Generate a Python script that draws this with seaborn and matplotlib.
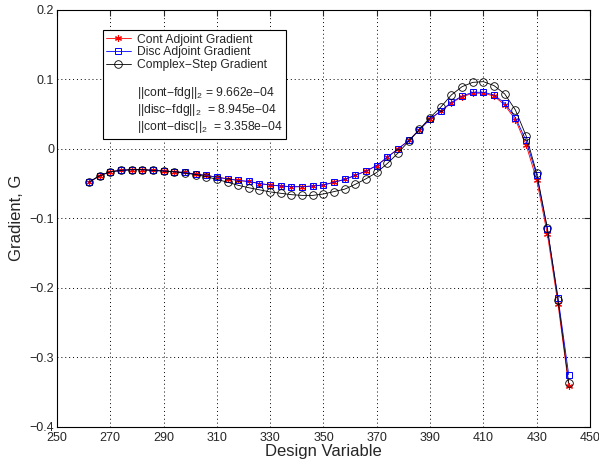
import numpy as np
import pandas as pd
import seaborn as sns
import matplotlib
matplotlib.use('Agg')
from matplotlib import pyplot as plt
from matplotlib.lines import Line2D
from matplotlib.ticker import FuncFormatter

# design variables, every 4th from 262 to 442
design_var = list(range(262, 443, 4))

cont_adj = [-0.048, -0.0388, -0.033, -0.031, -0.030, -0.030, -0.031, -0.0317, -0.033, -0.034,
            -0.0365, -0.038, -0.041, -0.043, -0.0455, -0.047, -0.050, -0.052, -0.0535, -0.0545,
            -0.0545, -0.0535, -0.052, -0.048, -0.044, -0.038, -0.032, -0.024, -0.012, 0.000,
            0.012, 0.0275, 0.043, 0.054, 0.066, 0.075, 0.080, 0.080, 0.076, 0.063,
            0.042, 0.006, -0.045, -0.123, -0.224, -0.341]
disc_adj = [-0.048, -0.0388, -0.033, -0.031, -0.030, -0.030, -0.031, -0.0317, -0.033, -0.034,
            -0.0365, -0.038, -0.041, -0.043, -0.0455, -0.047, -0.050, -0.052, -0.0535, -0.0545,
            -0.0545, -0.0535, -0.052, -0.048, -0.044, -0.038, -0.032, -0.024, -0.012, 0.000,
            0.012, 0.0275, 0.043, 0.0545, 0.067, 0.076, 0.0814, 0.0814, 0.0776, 0.0657,
            0.045, 0.012, -0.038, -0.116, -0.214, -0.325]
complex_step = [-0.048, -0.0388, -0.033, -0.031, -0.030, -0.030, -0.031, -0.032, -0.033, -0.035,
                -0.037, -0.040, -0.044, -0.048, -0.0525, -0.056, -0.059, -0.062, -0.064, -0.066,
                -0.067, -0.067, -0.065, -0.0615, -0.058, -0.051, -0.043, -0.034, -0.021, -0.006,
                0.011, 0.028, 0.045, 0.060, 0.0776, 0.0895, 0.0957, 0.0967, 0.091, 0.079,
                0.056, 0.019, -0.035, -0.114, -0.218, -0.337]

labels = ['Cont Adjoint Gradient', 'Disc Adjoint Gradient', 'Complex\u2212Step Gradient']
norm_text = [r'||cont$-$fdg||$_2$ = 9.662e$-$04',
             r'||disc$-$fdg||$_2$  = 8.945e$-$04',
             r'||cont$-$disc||$_2$  = 3.358e$-$04']

sns.set_style('white')
plt.rcParams['font.family'] = ['Liberation Sans', 'DejaVu Sans']
plt.rcParams['mathtext.fontset'] = 'custom'
plt.rcParams['mathtext.rm'] = 'Liberation Sans'
plt.rcParams['mathtext.it'] = 'Liberation Sans'

fig = plt.figure(figsize=(5.99, 4.71), dpi=100)
ax = fig.add_axes([0.095, 0.094, 0.89, 0.885])

colors = ['red', 'blue', 'black']
marks = [dict(marker=(6, 2, 0), markersize=5, markeredgewidth=0.8),
         dict(marker='s', markersize=4.5, markerfacecolor='none', markeredgewidth=0.7),
         dict(marker='o', markersize=5.5, markerfacecolor='none', markeredgewidth=0.6)]
series = [cont_adj, disc_adj, complex_step]

for ys, c, mk in zip(series, colors, marks):
    sns.lineplot(x=design_var, y=ys, ax=ax, color=c, lw=0.6)
    line = ax.lines[-1]
    line.set(markeredgecolor=c, **mk)

ax.set_xlim(250, 450)
ax.set_ylim(-0.4, 0.2)
ax.set_xticks(np.arange(250, 451, 20))
ax.set_yticks(np.arange(-0.4, 0.21, 0.1))
fmt = FuncFormatter(lambda v, p: ('%g' % (round(v, 2) + 0.0)).replace('-', '\u2212'))
ax.yaxis.set_major_formatter(fmt)
ax.grid(True, color='black', linestyle=(0, (1, 3)), linewidth=0.7)
ax.tick_params(direction='in', length=4, labelsize=9, top=True, right=True, pad=2)
ax.tick_params(axis='x', pad=4)
for s in ax.spines.values():
    s.set_color('black')
    s.set_linewidth(0.8)
ax.set_xlabel('Design Variable', fontsize=12, labelpad=0)
ax.set_ylabel('Gradient, G', fontsize=12, labelpad=4)

handles = []
for c, mk in zip(colors, marks):
    handles.append(Line2D([], [], color=c, lw=0.6, markeredgecolor=c, **mk))
blank = Line2D([], [], linestyle='none')
leg = ax.legend(handles + [blank] * 4, labels + [' '] + norm_text,
                loc='upper left', bbox_to_anchor=(0.086, 0.952), fontsize=8.7,
                frameon=True, fancybox=False, edgecolor='black', framealpha=1,
                handlelength=2.0, handletextpad=0.5, labelspacing=0.08,
                borderpad=0.3, borderaxespad=0)
leg.get_frame().set_linewidth(0.8)

plt.savefig('out.png', dpi=100)
